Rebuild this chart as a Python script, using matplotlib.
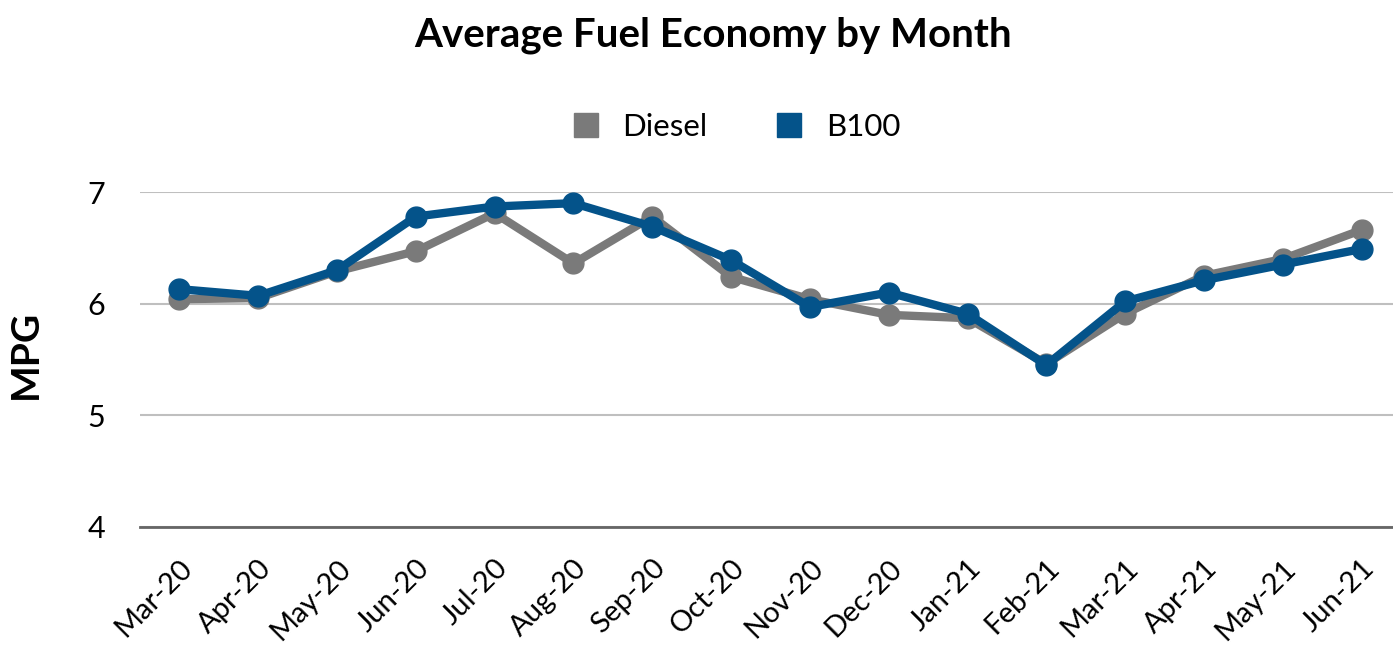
import matplotlib

matplotlib.use("Agg")

import matplotlib.pyplot as plt
from matplotlib.lines import Line2D
from matplotlib import transforms

months = ["Mar-20", "Apr-20", "May-20", "Jun-20", "Jul-20", "Aug-20", "Sep-20", "Oct-20",
          "Nov-20", "Dec-20", "Jan-21", "Feb-21", "Mar-21", "Apr-21", "May-21", "Jun-21"]
diesel = [6.04, 6.05, 6.29, 6.47, 6.81, 6.36, 6.78, 6.24,
          6.04, 5.90, 5.87, 5.46, 5.91, 6.25, 6.40, 6.66]
b100 = [6.13, 6.07, 6.30, 6.78, 6.87, 6.90, 6.69, 6.39,
        5.97, 6.10, 5.91, 5.45, 6.02, 6.21, 6.35, 6.49]

GREY = "#7a7a7a"
BLUE = "#04538a"

plt.rcParams["font.family"] = ["Lato", "DejaVu Sans"]

fig = plt.figure(figsize=(13.93, 6.45), dpi=100)
ax = fig.add_axes((140 / 1393, 1 - 527 / 645, 1261 / 1393, 335 / 645))

x = range(len(months))
ax.plot(x, diesel, color=GREY, lw=6, marker="o", ms=15, solid_joinstyle="round", zorder=3)
ax.plot(x, b100, color=BLUE, lw=6, marker="o", ms=15, solid_joinstyle="round", zorder=4)

ax.set_xlim(-0.5, len(months) - 0.5)
ax.set_ylim(4, 7)
ax.set_yticks([4, 5, 6, 7])
ax.set_yticklabels(["4", "5", "6", "7"], fontsize=22)
ax.set_xticks(list(x))
ax.set_xticklabels(months, fontsize=21, rotation=45, ha="right", rotation_mode="anchor")
# shift rotated labels so their top-right end sits right of the tick, as in the original
offset = transforms.ScaledTranslation(0.2, 0.0, fig.dpi_scale_trans)
for lbl in ax.get_xticklabels():
    lbl.set_transform(lbl.get_transform() + offset)

ax.tick_params(axis="both", length=0)
ax.tick_params(axis="y", pad=25)
ax.tick_params(axis="x", pad=20)
ax.grid(axis="y", color="#bfbfbf", lw=1.5)
ax.set_axisbelow(True)
for s in ["top", "right", "left"]:
    ax.spines[s].set_visible(False)
ax.spines["bottom"].set_color("#666666")
ax.spines["bottom"].set_linewidth(2)

ax.set_ylabel("MPG", fontsize=28, fontweight="bold")
ax.yaxis.set_label_coords(-97 / 1261, (527 - 354) / 335)

fig.text(0.512, 1 - 35 / 645, "Average Fuel Economy by Month", fontsize=29, fontweight="bold",
         ha="center", va="center")

handles = [Line2D([], [], color=GREY, marker="s", ls="", ms=17),
           Line2D([], [], color=BLUE, marker="s", ls="", ms=17)]
fig.legend(handles, ["Diesel", "B100"], loc="center", bbox_to_anchor=(735 / 1393, 1 - 127 / 645),
           ncol=2, frameon=False, fontsize=22.5, handlelength=1.0, handletextpad=0.68,
           columnspacing=2.1)

fig.savefig("out.png", dpi=100)
